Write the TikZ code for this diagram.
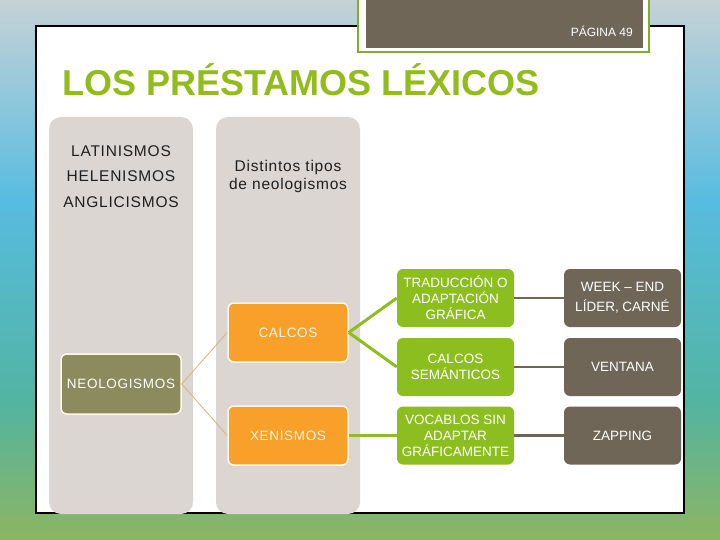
\documentclass[tikz,border=0pt]{standalone}
\usepackage{fontspec}
\setmainfont{Liberation Sans}
\newfontfamily\spacedfont[LetterSpace=5]{Liberation Sans}
\definecolor{bgtop}{HTML}{C6D2D6}
\definecolor{bgmidA}{HTML}{58BCE0}
\definecolor{bgmidB}{HTML}{52B4A2}
\definecolor{bgbot}{HTML}{8CB562}
\definecolor{titlegreen}{HTML}{92BC1C}
\definecolor{boxgreen}{HTML}{8DBE1F}
\definecolor{boxbrown}{HTML}{6F6658}
\definecolor{colgrey}{HTML}{DCD6D2}
\definecolor{boxorange}{HTML}{F8A02A}
\definecolor{boxolive}{HTML}{8C8B5E}
\definecolor{tanline}{HTML}{D8B37A}
\definecolor{pagegreen}{HTML}{7FAE2A}
\definecolor{cream}{HTML}{FFF8E6}
\begin{document}
\begin{tikzpicture}[x=1pt,y=-1pt,
  colbox/.style={fill=colgrey, rounded corners=12pt, inner sep=0pt, minimum width=144pt, minimum height=397pt},
  coltext/.style={inner sep=0pt, align=center, text=black!88, font=\spacedfont\fontsize{15.5}{25.5}\selectfont},
  orangebox/.style={draw=cream, line width=1.5pt, fill=boxorange, rounded corners=6pt, minimum width=120pt, minimum height=59pt, inner sep=0pt, text=cream, font=\spacedfont\fontsize{13.5}{16}\selectfont},
  olivebox/.style={draw=cream, line width=1.5pt, fill=boxolive, rounded corners=6pt, minimum width=120pt, minimum height=60pt, inner sep=0pt, text=white, font=\spacedfont\fontsize{13.5}{16}\selectfont},
  greenbox/.style={fill=boxgreen, rounded corners=6pt, minimum width=117pt, minimum height=58pt, inner sep=0pt, align=center, text=white, font=\fontsize{13.5}{16}\selectfont},
  brownbox/.style={fill=boxbrown, rounded corners=6pt, minimum width=117pt, minimum height=58pt, inner sep=0pt, align=center, text=white, font=\fontsize{13.5}{20}\selectfont},
  tanconn/.style={draw=tanline, line width=0.8pt},
  greenconn/.style={draw=boxgreen, line width=3pt},
  greyconn/.style={draw=boxbrown, line width=2.5pt}
]
\useasboundingbox (0,0) rectangle (720,540);
% background
\fill[top color=bgtop, bottom color=bgmidA] (0,0) rectangle (720,200);
\fill[top color=bgmidA, bottom color=bgmidB] (0,199) rectangle (720,400);
\fill[top color=bgmidB, bottom color=bgbot] (0,399) rectangle (720,540);
% slide panel
\filldraw[fill=white, draw=black, line width=1.5pt] (36,26) rectangle (684,513);
% page tab
\filldraw[fill=white, draw=pagegreen, line width=2.5pt] (358,-5) rectangle (649,52);
\fill[boxbrown] (366,-5) rectangle (643,48);
\node[anchor=base east, inner sep=0pt, text=white, font=\fontsize{12}{14}\selectfont] (pag) at (633,37) {PÁGINA 49};
% title
\node[anchor=base west, inner sep=0pt, text=titlegreen, font=\bfseries\fontsize{36}{40}\selectfont] (title) at (62,96) {LOS PRÉSTAMOS LÉXICOS};
% columns
\node[colbox] (col1) at (121,315.5) {};
\node[colbox] (col2) at (288,315.5) {};
\node[coltext] (t1) at (121,176.5) {LATINISMOS\\HELENISMOS\\ANGLICISMOS};
\node[coltext, font=\spacedfont\fontsize{15.5}{18}\selectfont] (t2) at (288,176.5) {Distintos tipos\\de neologismos};
% boxes
\node[olivebox] (neo) at (121,384) {NEOLOGISMOS};
\node[orangebox] (calcos) at (288,332.5) {CALCOS};
\node[orangebox] (xen) at (288,435.5) {XENISMOS};
\node[greenbox] (trad) at (455.5,298) {TRADUCCIÓN O\\ADAPTACIÓN\\GRÁFICA};
\node[greenbox] (sem) at (455.5,367) {CALCOS\\SEMÁNTICOS};
\node[greenbox] (voc) at (455.5,435.5) {VOCABLOS SIN\\ADAPTAR\\GRÁFICAMENTE};
\node[brownbox] (week) at (622.5,298) {WEEK – END\\LÍDER, CARNÉ};
\node[brownbox] (vent) at (622.5,367) {VENTANA};
\node[brownbox] (zap) at (622.5,435.5) {ZAPPING};
% connectors
\draw[tanconn] (neo.east) -- (calcos.west);
\draw[tanconn] (neo.east) -- (xen.west);
\draw[greenconn] (calcos.east) -- (trad.west);
\draw[greenconn] (calcos.east) -- (sem.west);
\draw[greenconn] (xen.east) -- (voc.west);
\draw[greyconn] (trad.east) -- (week.west);
\draw[greyconn] (sem.east) -- (vent.west);
\draw[greyconn] (voc.east) -- (zap.west);
\end{tikzpicture}
\end{document}
